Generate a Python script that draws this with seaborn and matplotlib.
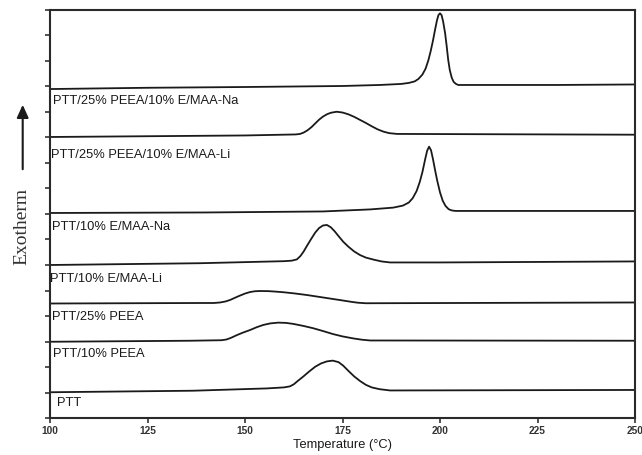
import numpy as np
import pandas as pd
import matplotlib
matplotlib.use("Agg")
import matplotlib.pyplot as plt
import seaborn as sns

# ---- data (temperature in °C, stacked heat-flow offset in arbitrary units) ----
names = [
    "PTT/25% PEEA/10% E/MAA-Na",
    "PTT/25% PEEA/10% E/MAA-Li",
    "PTT/10% E/MAA-Na",
    "PTT/10% E/MAA-Li",
    "PTT/25% PEEA",
    "PTT/10% PEEA",
    "PTT",
]

t1 = [100, 125, 150, 175, 184.6, 190, 192, 193.5, 194.5, 195.5, 196.3, 197, 197.6, 198.2, 198.7,
      199.2, 199.6, 200, 200.4, 200.8, 201.3, 201.7, 202.1, 202.5, 203, 203.5, 204.1, 204.7, 230, 250]
y1 = [12.90, 12.95, 12.98, 13.02, 13.06, 13.10, 13.14, 13.20, 13.30, 13.47, 13.70, 14.02, 14.38, 14.80, 15.20,
      15.58, 15.80, 15.87, 15.80, 15.55, 15.10, 14.60, 14.05, 13.65, 13.35, 13.18, 13.10, 13.06, 13.06, 13.08]

t2 = [100, 125, 150, 163, 164.1, 165, 166, 167, 168, 169, 170, 171, 172, 173.5, 175, 176.5, 178,
      179.5, 181, 182.5, 184, 185.5, 187, 189, 250]
y2 = [11.02, 11.05, 11.08, 11.12, 11.14, 11.19, 11.28, 11.40, 11.55, 11.70, 11.82, 11.91, 11.97, 12.01, 11.98,
      11.91, 11.81, 11.69, 11.57, 11.44, 11.32, 11.23, 11.17, 11.14, 11.11]

t3 = [100, 140, 170, 182.1, 188, 190.5, 192, 193, 194, 194.8, 195.5, 196.2, 196.7, 197.2, 197.7,
      198.2, 198.7, 199.3, 200, 200.7, 201.4, 202.2, 203, 204, 250]
y3 = [8.04, 8.06, 8.10, 8.18, 8.25, 8.33, 8.45, 8.62, 8.90, 9.25, 9.65, 10.15, 10.48, 10.64, 10.50,
      10.15, 9.75, 9.30, 8.85, 8.52, 8.32, 8.19, 8.14, 8.12, 8.12]

t4 = [100, 138.5, 160, 162, 163.3, 164.2, 165, 166, 167, 168, 169, 170, 171, 172, 173, 174, 175.2,
      176.5, 178, 179.5, 181, 183, 185, 187.2, 200, 250]
y4 = [6.00, 6.07, 6.15, 6.17, 6.22, 6.35, 6.52, 6.78, 7.03, 7.27, 7.45, 7.55, 7.57, 7.48, 7.32, 7.13, 6.91,
      6.72, 6.53, 6.39, 6.29, 6.21, 6.14, 6.10, 6.10, 6.14]

t5 = [100, 138.5, 142, 143.6, 145, 146.2, 147.5, 148.7, 150, 151.3, 152.5, 153.8, 156, 158, 160, 163,
      166, 169, 172, 175, 177.5, 179, 181, 250]
y5 = [4.49, 4.51, 4.51, 4.53, 4.57, 4.63, 4.72, 4.80, 4.88, 4.94, 4.97, 4.98, 4.975, 4.955, 4.93, 4.88,
      4.82, 4.75, 4.68, 4.61, 4.55, 4.52, 4.50, 4.53]

t6 = [100, 135.9, 144, 145.3, 146.5, 147.9, 149.5, 151.3, 153, 154.7, 156.5, 158.5, 160.5, 162.4, 165,
      167.5, 170, 172.6, 175, 177.8, 180, 182.1, 250]
y6 = [2.99, 3.03, 3.05, 3.08, 3.15, 3.25, 3.35, 3.45, 3.56, 3.65, 3.71, 3.74, 3.73, 3.69, 3.61,
      3.52, 3.41, 3.29, 3.20, 3.12, 3.07, 3.04, 3.03]

t7 = [100, 136.7, 155.6, 160, 161.5, 162.5, 163.5, 164.9, 166.5, 168, 169.5, 171, 172.5, 174, 175.2,
      176.5, 178, 179.5, 181, 182.5, 184.5, 187.2, 250]
y7 = [1.01, 1.07, 1.16, 1.20, 1.24, 1.32, 1.45, 1.62, 1.83, 2.01, 2.14, 2.22, 2.25, 2.19, 2.05,
      1.85, 1.63, 1.45, 1.30, 1.20, 1.13, 1.08, 1.10]

label_x = [100.8, 100.2, 100.4, 100.1, 100.6, 100.7, 101.9]
label_y = [12.42, 10.31, 7.48, 5.44, 3.97, 2.51, 0.58]

x_ticks = [100, 125, 150, 175, 200, 225, 250]
y_ticks = list(range(0, 17))

temps = [t1, t2, t3, t4, t5, t6, t7]
vals = [y1, y2, y3, y4, y5, y6, y7]

frames = []
for n, t, v in zip(names, temps, vals):
    frames.append(pd.DataFrame({"T": t, "Q": v, "sample": n}))
df = pd.concat(frames, ignore_index=True)

sns.set_style("ticks")
plt.rcParams["font.family"] = ["Liberation Sans", "DejaVu Sans"]

fig = plt.figure(figsize=(6.42, 4.55), dpi=100)
ax = fig.add_axes([50 / 642, 37 / 455, 585 / 642, 408 / 455])

sns.lineplot(data=df, x="T", y="Q", hue="sample", units="sample", estimator=None,
             sort=False, palette=["#1a1a1a"] * len(names), legend=False,
             linewidth=1.3, ax=ax)
for line in ax.get_lines():
    line.set_solid_joinstyle("round")

for n, lx, ly in zip(names, label_x, label_y):
    ax.text(lx, ly, n, fontsize=9.3, color="#1a1a1a", ha="left", va="center")

ax.set_xlim(100, 250)
ax.set_ylim(0, 16)
ax.set_xticks(x_ticks)
ax.set_xticklabels([str(v) for v in x_ticks], fontsize=7.3, fontweight="bold", color="#333333")
ax.set_yticks(y_ticks)
ax.set_yticklabels([])
ax.tick_params(axis="x", direction="out", length=3.5, width=1.2, pad=2.5, colors="#333333")
ax.tick_params(axis="y", direction="out", length=3.8, width=1.2, colors="#333333")
for s in ax.spines.values():
    s.set_visible(True)
    s.set_linewidth(1.5)
    s.set_color("#2a2a2a")
ax.set_xlabel("Temperature (°C)", fontsize=9.3, color="#1a1a1a", labelpad=2)
ax.set_ylabel("")

fig.text(22 / 642, 1 - 226 / 455, "Exotherm", rotation=90, ha="center", va="center",
         fontsize=14, family=["Liberation Serif", "DejaVu Serif"], color="#333333")
fig.patches.append(matplotlib.patches.FancyArrowPatch(
    (22.7 / 642, 1 - 172 / 455), (22.7 / 642, 1 - 102 / 455),
    transform=fig.transFigure, arrowstyle="-|>,head_length=0.55,head_width=0.25",
    mutation_scale=14, linewidth=1.5, color="#1a1a1a"))

fig.savefig("out.png", dpi=100, facecolor="white")
